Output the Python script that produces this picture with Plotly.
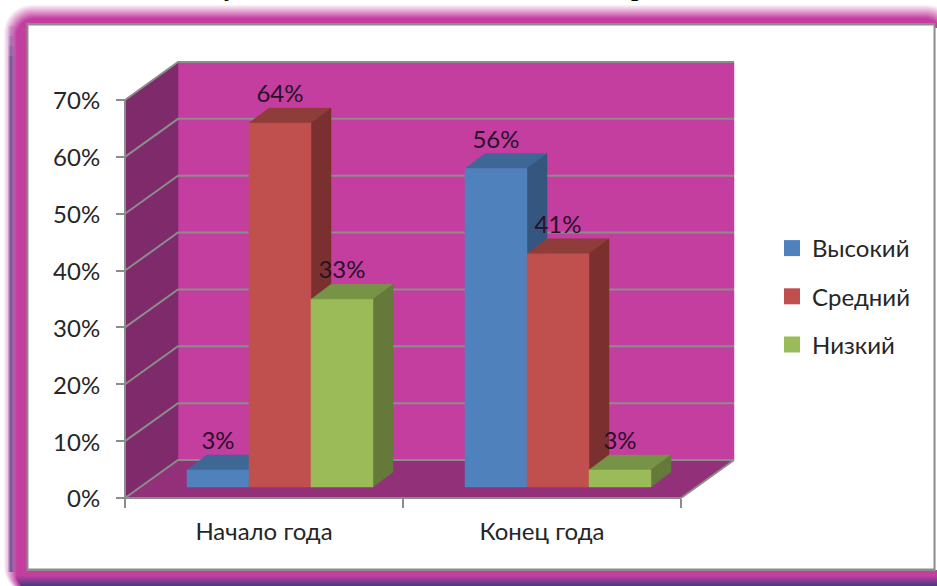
import plotly.graph_objects as go

# ---- data ----
categories = ["Начало года", "Конец года"]
series_names = ["Высокий", "Средний", "Низкий"]
high = [3, 56]
medium = [64, 41]
low = [33, 3]
y_ticks = [0, 10, 20, 30, 40, 50, 60, 70]

# ---- styles ----
W, H = 937, 586
PX_X = 278.0            # pixels per category
PX_Y = 5.686            # pixels per percent
X0, Y0 = 125.0, 498.0   # pixel position of the origin
FRONT = ["#4f81bd", "#c0504d", "#9bbb59"]
TOP = ["#3f6796", "#8f3d3a", "#779446"]
SIDE = ["#35567f", "#7a302e", "#64793a"]
WALL, SIDEWALL, FLOOR = "#c43ea0", "#7f2a6b", "#93307a"
GRID = "#8c8c8c"
TEXT = "#262626"
FONT = "Lato, 'Open Sans', 'Noto Sans', sans-serif"
FS = 24

DX, DY = 53 / PX_X, 38 / PX_Y          # depth of the walls
BDX, BDY = 20 / PX_X, 15 / PX_Y        # depth of a column
OX, OY = 16 / PX_X, 11 / PX_Y          # column offset from front plane
BW = 62 / PX_X                         # column width


def poly(fig, xs, ys, color):
    fig.add_trace(go.Scatter(x=xs + xs[:1], y=ys + ys[:1], mode="lines", fill="toself",
                             fillcolor=color, line=dict(color=color, width=0.5),
                             showlegend=False, hoverinfo="skip"))


def line(fig, xs, ys, width=2):
    fig.add_trace(go.Scatter(x=xs, y=ys, mode="lines", line=dict(color=GRID, width=width),
                             showlegend=False, hoverinfo="skip"))


fig = go.Figure()
n = len(categories)
top = y_ticks[-1]

# walls
poly(fig, [DX, n + DX, n + DX, DX], [DY, DY, top + DY, top + DY], WALL)
poly(fig, [0, DX, DX, 0], [0, DY, top + DY, top], SIDEWALL)
poly(fig, [0, n, n + DX, DX], [0, 0, DY, DY], FLOOR)

# gridlines
for t in y_ticks:
    line(fig, [0, DX, n + DX], [t, t + DY, t + DY])
line(fig, [n, n + DX], [0, DY])
line(fig, [0, 0], [0, top])
line(fig, [0, n], [0, 0])

# columns
series = [high, medium, low]
label_x, label_y, label_t = [], [], []
for c in range(n):
    start = c + 0.5 + OX - 1.5 * BW
    for s, vals in enumerate(series):
        v = vals[c]
        x0, x1 = start + s * BW, start + (s + 1) * BW
        b, t = OY, OY + v
        poly(fig, [x0, x1, x1 + BDX, x0 + BDX], [t, t, t + BDY, t + BDY], TOP[s])
        poly(fig, [x1, x1 + BDX, x1 + BDX, x1], [b, b + BDY, t + BDY, t], SIDE[s])
        poly(fig, [x0, x1, x1, x0], [b, b, t, t], FRONT[s])
        label_x.append((x0 + x1) / 2)
        label_y.append(t + BDY)
        label_t.append(f"{v}%")

# data labels
fig.add_trace(go.Scatter(x=label_x, y=label_y, text=label_t, mode="text",
                         textposition="top center",
                         textfont=dict(family=FONT, size=FS, color="#2a1028"),
                         showlegend=False, hoverinfo="skip", cliponaxis=False))

# legend entries
for s, name in enumerate(series_names):
    fig.add_trace(go.Scatter(x=[None], y=[None], mode="markers", name=name,
                             legendgroup=name,
                             marker=dict(symbol="square", size=16, color=FRONT[s])))

# ---- decorative frame, drawn in page coordinates ----
shapes = []


def rrect(x0, y0, x1, y1, r):
    def fx(v):
        return v / W

    def fy(v):
        return 1 - v / H
    k = 0.45 * r
    return (f"M {fx(x0 + r)} {fy(y0)} L {fx(x1 - r)} {fy(y0)} "
            f"C {fx(x1 - k)} {fy(y0)} {fx(x1)} {fy(y0 + k)} {fx(x1)} {fy(y0 + r)} "
            f"L {fx(x1)} {fy(y1 - r)} C {fx(x1)} {fy(y1 - k)} {fx(x1 - k)} {fy(y1)} {fx(x1 - r)} {fy(y1)} "
            f"L {fx(x0 + r)} {fy(y1)} C {fx(x0 + k)} {fy(y1)} {fx(x0)} {fy(y1 - k)} {fx(x0)} {fy(y1 - r)} "
            f"L {fx(x0)} {fy(y0 + r)} C {fx(x0)} {fy(y0 + k)} {fx(x0 + k)} {fy(y0)} {fx(x0 + r)} {fy(y0)} Z")


def page_shape(**kw):
    shapes.append(dict(xref="paper", yref="paper", layer="below", line=dict(width=0), **kw))


def page_rect(x0, y0, x1, y1, color, opacity=1):
    page_shape(type="rect", x0=x0 / W, x1=x1 / W, y0=1 - y1 / H, y1=1 - y0 / H,
               fillcolor=color, opacity=opacity)


steps = 14
for i in range(steps):
    f = (i + 1) / steps
    col = f"rgb({int(255 + (196 - 255) * f)},{int(255 + (62 - 255) * f)},{int(255 + (160 - 255) * f)})"
    right = 955 - 1.0 * i
    page_shape(type="path", path=rrect(4 + i * 0.95, 5 + i * 1.0, right, 594, 28 - i * 0.8), fillcolor=col)
# bluish tint at the left of the band, fading in below the corner
tint = [0.18, 0.42, 0.62, 0.62, 0.42, 0.26, 0.14, 0.06]
for i, o in enumerate(tint):
    for k, (a, b) in enumerate([(26, 36), (36, 46), (46, 56), (56, 572)]):
        page_rect(8 + i, a, 9 + i, b, "#3d3a80", o * (k + 1) / 4)
# dark gradient at the bottom of the band
for i in range(10):
    page_rect(15 + i * 0.6, 576 + i, W, 577 + i, "#3d3a80", 0.1 + 0.09 * i)
# white panel with a grey border
page_rect(26.5, 23, 935.5, 571, GRID)
page_rect(28.5, 25.5, 933.5, 568.5, "#ffffff")
page_rect(935.5, 28, W, 570, "#ffffff")

fig.update_layout(
    width=W, height=H, autosize=False,
    margin=dict(l=0, r=0, t=0, b=0),
    paper_bgcolor="#ffffff", plot_bgcolor="rgba(0,0,0,0)",
    font=dict(family=FONT, size=FS, color=TEXT),
    shapes=shapes,
    showlegend=True,
    legend=dict(x=772 / W, y=1 - 226 / H, xanchor="left", yanchor="top",
                bgcolor="rgba(0,0,0,0)", tracegroupgap=14, itemwidth=30,
                font=dict(family=FONT, size=FS, color=TEXT)),
    xaxis=dict(range=[-X0 / PX_X, (W - X0) / PX_X], domain=[0, 1], anchor="free",
               position=(H - Y0) / H, showgrid=False, zeroline=False, showline=False,
               tickmode="array", tickvals=[i + 0.5 for i in range(n)], ticktext=categories,
               ticks="", ticklabelstandoff=17,
               minor=dict(tickmode="array", tickvals=list(range(n + 1)), ticks="outside",
                          ticklen=9, tickwidth=2, tickcolor=GRID, showgrid=False),
               tickfont=dict(family=FONT, size=FS, color=TEXT)),
    yaxis=dict(range=[-(H - Y0) / PX_Y, Y0 / PX_Y], domain=[0, 1], anchor="free",
               position=X0 / W, showgrid=False, zeroline=False, showline=False,
               tickmode="array", tickvals=y_ticks, ticktext=[f"{v}%" for v in y_ticks],
               ticks="outside", ticklen=9, tickwidth=2, tickcolor=GRID, ticklabelstandoff=11,
               ticklabelshift=1,
               tickfont=dict(family=FONT, size=FS, color=TEXT)),
    annotations=[
        dict(text="<b>у</b>", xref="paper", yref="paper", x=230 / W, y=1 + 12 / H, xanchor="center",
             yanchor="middle", showarrow=False,
             font=dict(family="Liberation Serif", size=26, color="#000000")),
        dict(text="<b>р</b>", xref="paper", yref="paper", x=638 / W, y=1 + 12 / H, xanchor="center",
             yanchor="middle", showarrow=False,
             font=dict(family="Liberation Serif", size=26, color="#000000")),
    ],
)

fig.write_html("out.html", config={"displayModeBar": False},
               post_script="document.body.style.margin='0';document.body.style.overflow='hidden';")
